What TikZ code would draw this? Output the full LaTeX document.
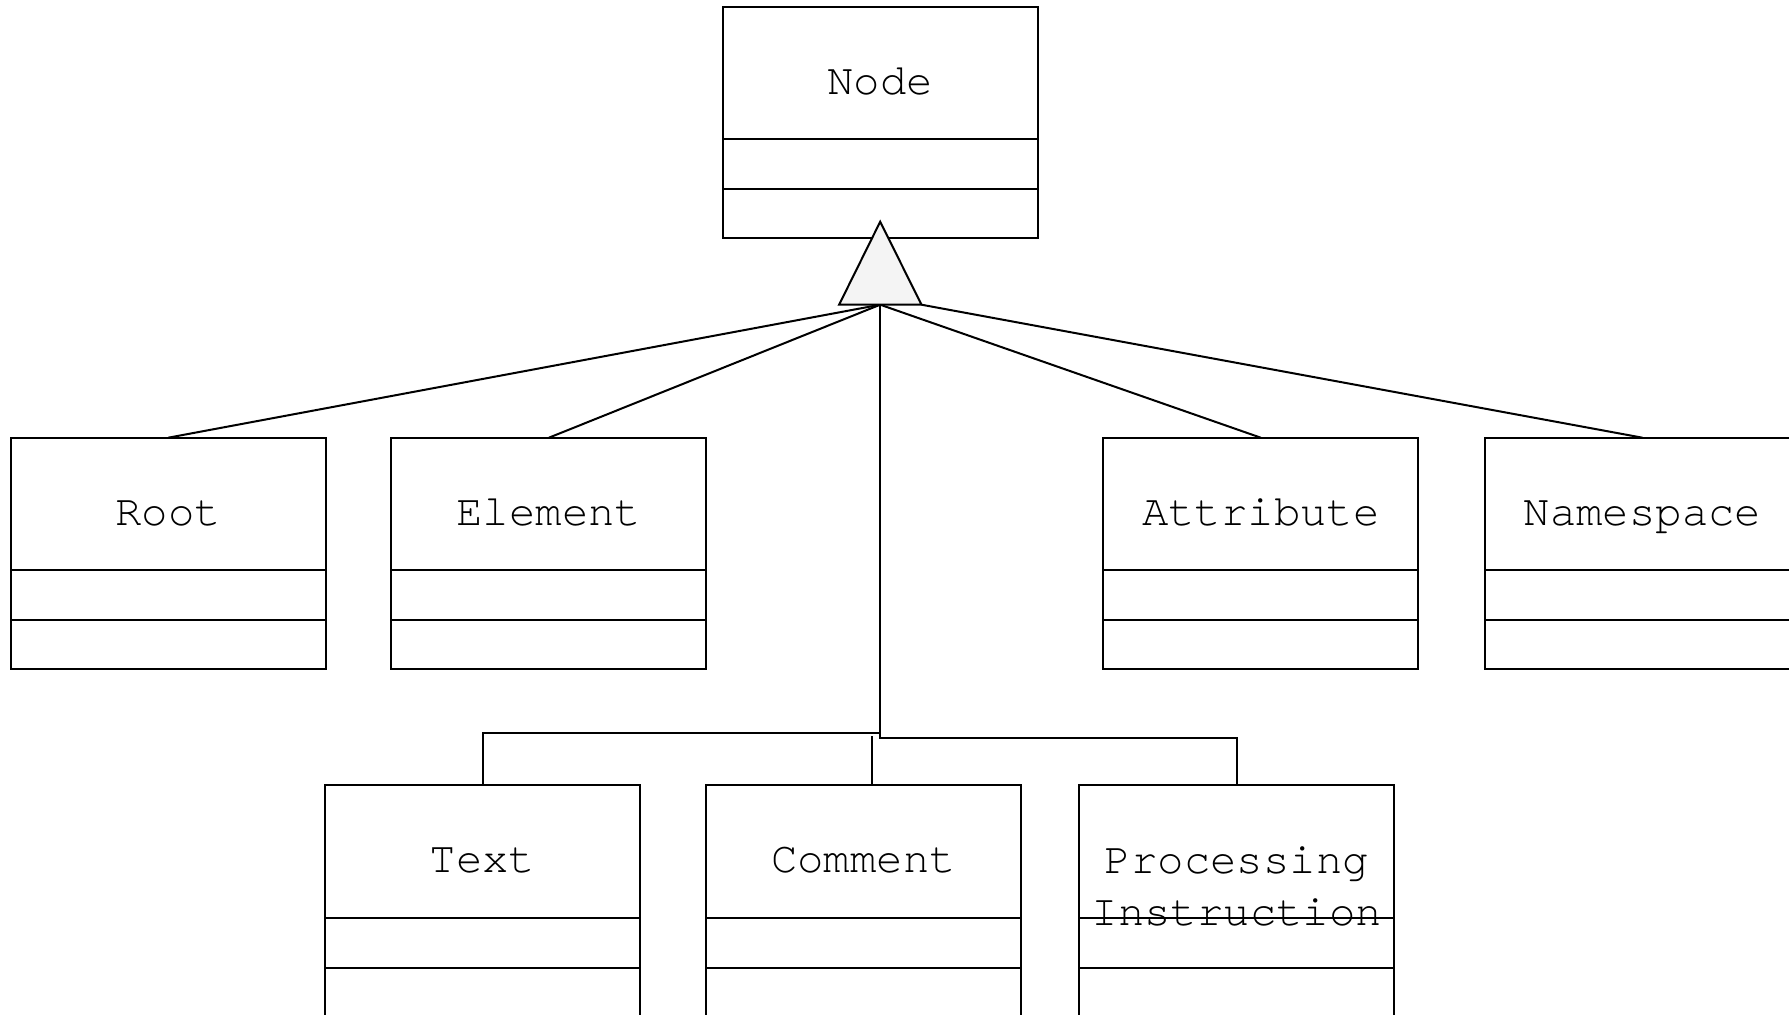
\documentclass[tikz,border=0pt]{standalone}
\usepackage{fontspec}
\newfontfamily\clsfont{TeX Gyre Cursor}
\usetikzlibrary{calc}

% One unit = one pixel, y grows downwards
\tikzset{
  x=0.5pt, y=-0.5pt,
  line/.style={line width=1pt, draw=black},
  clsname/.style={line, minimum width=157.5pt, minimum height=66.3pt,
                  inner sep=0pt, outer sep=0pt, anchor=north west, fill=white},
  clsattr/.style={line, minimum width=157.5pt, minimum height=25pt,
                  inner sep=0pt, outer sep=0pt, anchor=north, fill=white},
  clsops/.style={line, minimum width=157.5pt, minimum height=24.5pt,
                 inner sep=0pt, outer sep=0pt, anchor=north, fill=white},
  lbl/.style={font=\clsfont\fontsize{22pt}{26.15pt}\selectfont,
              inner sep=0pt, anchor=base, text=black},
  edge/.style={line width=1pt, draw=black},
}
\definecolor{triFill}{HTML}{F4F4F4}

% UML class box: name, attribute and operation compartments
\newcommand\umlclass[4]{%
  \node[clsname] (#1) at (#2,#3) {};
  \node[clsattr] (#1-attr) at (#1.south) {};
  \node[clsops] (#1-ops) at (#1-attr.south) {};
  \node[lbl] (#1-lbl) at ($(#1.north)+(0,87.3)$) {#4};
}

\begin{document}
\begin{tikzpicture}
  \useasboundingbox (0,0) rectangle (1789,1014);
  \clip (0,0) rectangle (1789,1014);

  % classes
  \umlclass{node}{722.7}{6.7}{Node}
  \umlclass{root}{10.7}{437.7}{Root}
  \umlclass{element}{391.4}{437.7}{Element}
  \umlclass{attribute}{1103.3}{437.7}{Attribute}
  \umlclass{namespace}{1485}{437.7}{Namespace}
  \umlclass{text}{325}{785}{Text}
  \umlclass{comment}{706}{785}{Comment}

  \node[clsname] (pi) at (1079.3,785) {};
  \node[clsattr] (pi-attr) at (pi.south) {};
  \node[clsops] (pi-ops) at (pi-attr.south) {};
  \node[lbl, anchor=center, align=center] (pi-lbl)
    at ($(pi.north)+(0,101.3)$) {Processing\\Instruction};

  % generalization triangle
  \coordinate (apex) at ($(node-ops.south)+(0,-16.6)$);
  \coordinate (genL) at ($(apex)+(-41.1,83)$);
  \coordinate (genR) at ($(apex)+(41.3,83)$);
  \coordinate (gen)  at ($(apex)+(0,83)$);

  % inheritance connectors
  \draw[edge] (gen) -- (root.north);
  \draw[edge] (gen) -- (element.north);
  \draw[edge] (gen) -- (attribute.north);
  \draw[edge] (genR) -- (namespace.north);

  \coordinate (trunkT) at (gen |- 0,733);
  \coordinate (trunkP) at (gen |- 0,737.7);
  \coordinate (trunkC) at (872,736);
  \draw[edge] (gen) -- (trunkP) -| (pi.north);
  \draw[edge] (trunkT) -| (text.north);
  \draw[edge] (trunkC) -- (trunkC |- comment.north);

  \draw[edge, fill=triFill] (apex) -- (genL) -- (genR) -- cycle;
\end{tikzpicture}
\end{document}
